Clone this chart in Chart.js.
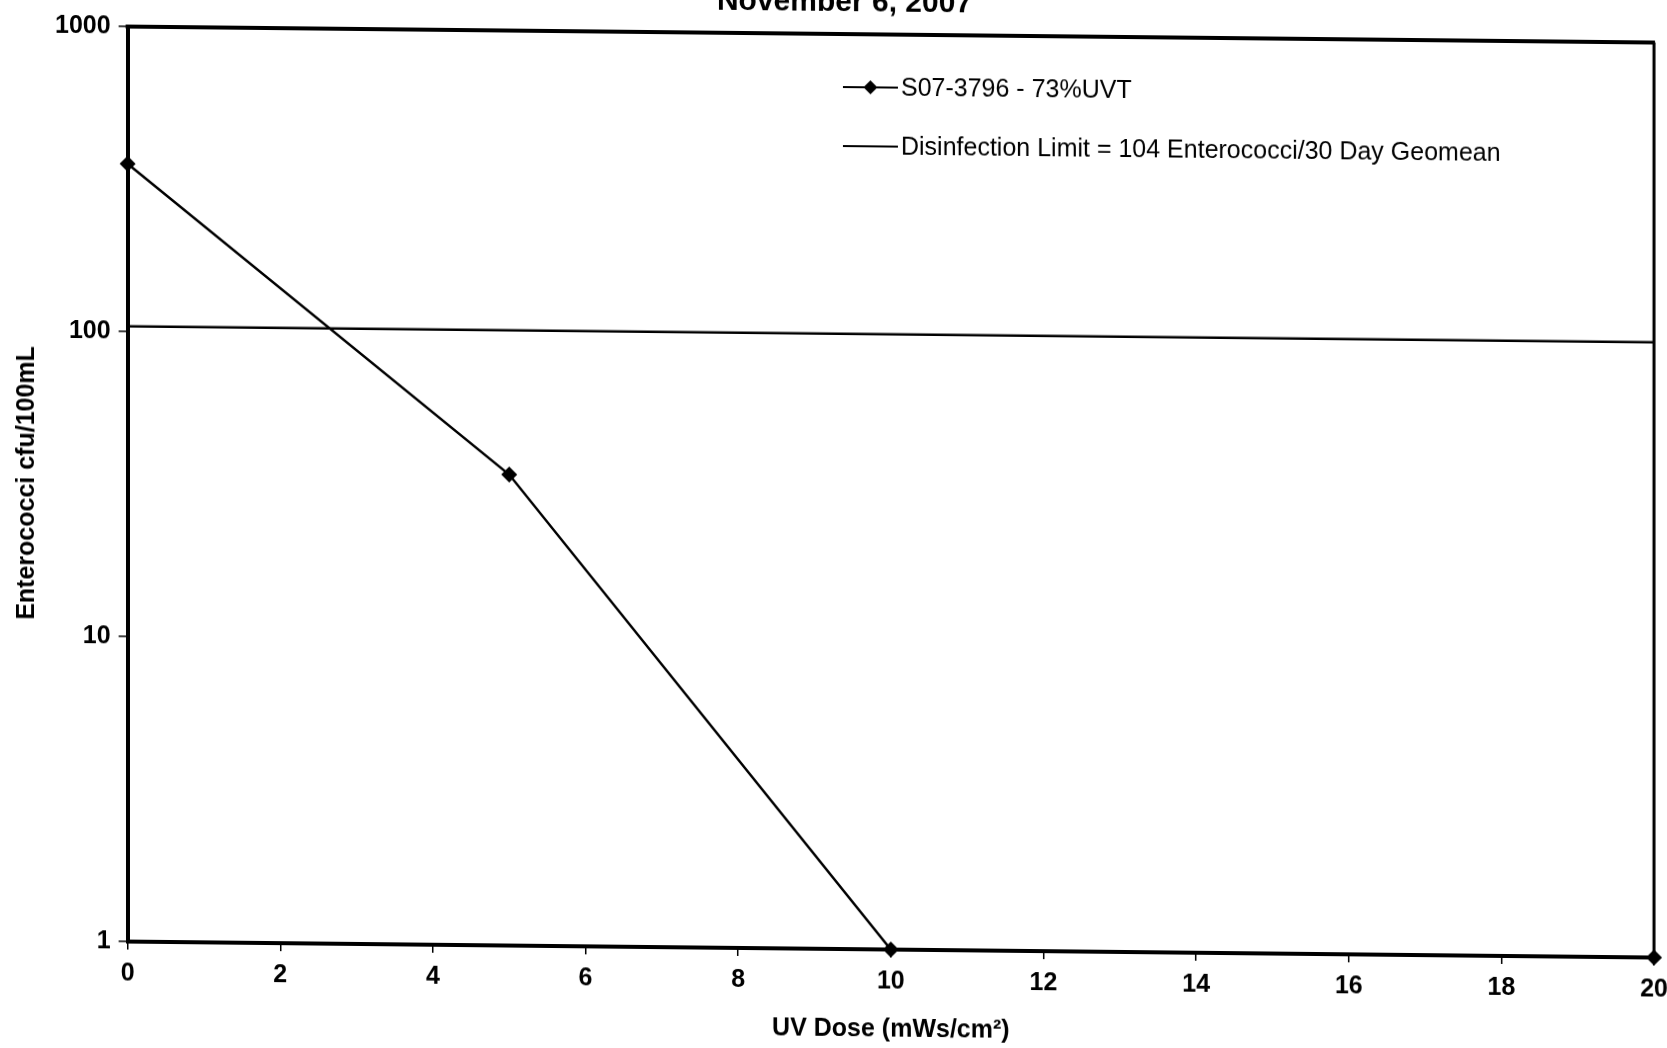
<!DOCTYPE html>
<html>
<head>
<meta charset="utf-8">
<script src="https://cdn.jsdelivr.net/npm/chart.js@4"></script>
<style>
  html, body { margin: 0; padding: 0; background: #fff; overflow: hidden; }
  #wrap { position: absolute; left: 0; top: -15px; width: 1677px; height: 1065px; transform: skewY(0.6deg); }
</style>
</head>
<body>
<div id="wrap"><canvas id="chart" width="1677" height="1065"></canvas></div>
<script>
const titleText  = 'November 6, 2007';
const xTitle     = 'UV Dose (mWs/cm\u00B2)';
const yTitle     = 'Enterococci cfu/100mL';

// measured series (UV dose vs. enterococci count)
const doseValues  = [0, 5, 10, 20];
const countValues = [355, 35, 1, 1];
const sampleLabel = 'S07-3796 - 73%UVT';

// regulatory limit drawn across the whole dose range
const limitDose   = [0, 20];
const limitValues = [104, 104];
const limitLabel  = 'Disinfection Limit = 104 Enterococci/30 Day Geomean';

const xTicks = [0, 2, 4, 6, 8, 10, 12, 14, 16, 18, 20];
const yTicks = [1, 10, 100, 1000];

const FONT = "'Liberation Sans', Arial, sans-serif";

// box round the plot area (Excel style)
const plotBorder = {
  id: 'plotBorder',
  beforeDatasetsDraw(chart) {
    const { ctx, chartArea: a } = chart;
    ctx.save();
    ctx.strokeStyle = '#000';
    ctx.lineWidth = 4;
    ctx.beginPath();
    ctx.moveTo(a.left - 2, a.top);
    ctx.lineTo(a.right + 1, a.top);
    ctx.stroke();
    ctx.lineWidth = 3;
    ctx.beginPath();
    ctx.moveTo(a.right, a.top);
    ctx.lineTo(a.right, a.bottom);
    ctx.stroke();
    ctx.restore();
  }
};

// legend sitting inside the plot, upper right
const insideLegend = {
  id: 'insideLegend',
  afterDatasetsDraw(chart) {
    const ctx = chart.ctx;
    const x0 = 843, x1 = 898, tx = 901;
    const rows = [102, 161];
    ctx.save();
    ctx.font = `25px ${FONT}`;
    ctx.textBaseline = 'middle';
    ctx.fillStyle = '#000';
    chart.data.datasets.forEach((ds, i) => {
      const y = rows[i];
      ctx.strokeStyle = '#000';
      ctx.lineWidth = 2;
      ctx.beginPath();
      ctx.moveTo(x0, y);
      ctx.lineTo(x1, y);
      ctx.stroke();
      if (ds.pointRadius > 0) {
        const r = 7, cx = (x0 + x1) / 2;
        ctx.beginPath();
        ctx.moveTo(cx, y - r);
        ctx.lineTo(cx + r, y);
        ctx.lineTo(cx, y + r);
        ctx.lineTo(cx - r, y);
        ctx.closePath();
        ctx.fill();
      }
      ctx.fillText(ds.label, tx, y + 1);
    });
    ctx.restore();
  }
};

const ctx = document.getElementById('chart').getContext('2d');
new Chart(ctx, {
  type: 'line',
  data: {
    datasets: [
      {
        label: sampleLabel,
        data: doseValues.map((d, i) => ({ x: d, y: countValues[i] })),
        borderColor: '#000',
        backgroundColor: '#000',
        borderWidth: 2.5,
        pointStyle: 'rectRot',
        pointRadius: 8,
        pointBorderWidth: 0,
        tension: 0,
        clip: false
      },
      {
        label: limitLabel,
        data: limitDose.map((d, i) => ({ x: d, y: limitValues[i] })),
        borderColor: '#000',
        borderWidth: 2.5,
        pointRadius: 0,
        tension: 0,
        clip: false
      }
    ]
  },
  plugins: [plotBorder, insideLegend],
  options: {
    responsive: false,
    animation: false,
    layout: { padding: { left: 12, bottom: 6, right: 0, top: 0 } },
    plugins: {
      legend: { display: false },
      tooltip: { enabled: false },
      title: {
        display: true,
        text: titleText,
        color: '#000',
        font: { family: FONT, size: 30, weight: 'bold' },
        padding: { top: 0, bottom: 13 }
      }
    },
    scales: {
      x: {
        type: 'linear',
        min: 0,
        max: 20,
        afterBuildTicks: s => { s.ticks = xTicks.map(v => ({ value: v })); },
        ticks: {
          color: '#000',
          font: { family: FONT, size: 25, weight: 'bold' },
          padding: 9,
          maxRotation: 0
        },
        grid: { drawOnChartArea: false, drawTicks: true, tickLength: 8, color: '#000', lineWidth: 1.5 },
        border: { display: true, color: '#000', width: 4 },
        title: {
          display: true,
          text: xTitle,
          color: '#000',
          font: { family: FONT, size: 25, weight: 'bold' },
          padding: { top: 9, bottom: 0 }
        }
      },
      y: {
        type: 'logarithmic',
        min: 1,
        max: 1000,
        afterBuildTicks: s => { s.ticks = yTicks.map(v => ({ value: v })); },
        ticks: {
          color: '#000',
          font: { family: FONT, size: 25, weight: 'bold' },
          padding: 8,
          callback: v => String(v)
        },
        grid: { drawOnChartArea: false, drawTicks: true, tickLength: 9, color: '#000', lineWidth: 1.5 },
        border: { display: true, color: '#000', width: 4 },
        title: {
          display: true,
          text: yTitle,
          color: '#000',
          font: { family: FONT, size: 25, weight: 'bold' },
          padding: { top: 0, bottom: 5 }
        }
      }
    }
  }
});
</script>
</body>
</html>
